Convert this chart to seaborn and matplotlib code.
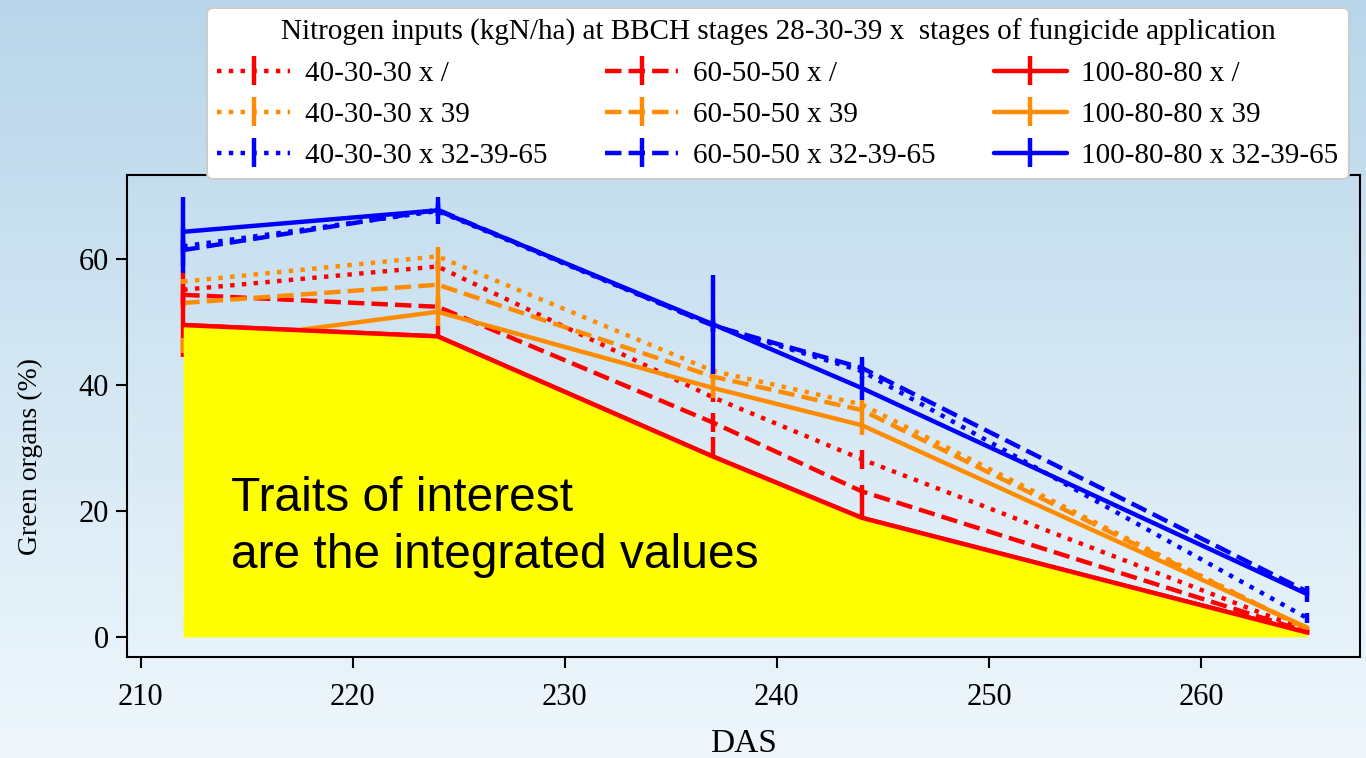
import numpy as np
import matplotlib
matplotlib.use("Agg")
import matplotlib.pyplot as plt
import seaborn as sns

# ---------------- data ----------------
das = [212, 224, 237, 244, 265]

labels = [
    "40-30-30 x /", "40-30-30 x 39", "40-30-30 x 32-39-65",
    "60-50-50 x /", "60-50-50 x 39", "60-50-50 x 32-39-65",
    "100-80-80 x /", "100-80-80 x 39", "100-80-80 x 32-39-65",
]

g_40_none = [55.1, 58.8, 38.0, 28.2, 1.0]
g_40_39 = [56.4, 60.4, 42.2, 36.9, 1.2]
g_40_full = [62.0, 67.6, 49.4, 42.2, 3.0]
g_60_none = [54.3, 52.4, 34.0, 23.1, 0.8]
g_60_39 = [53.0, 55.9, 41.3, 36.0, 1.3]
g_60_full = [61.4, 67.8, 49.4, 42.7, 7.2]
g_100_none = [49.5, 47.7, 28.6, 18.9, 0.7]
g_100_39 = [46.3, 51.6, 39.5, 33.6, 1.5]
g_100_full = [64.3, 67.7, 49.6, 39.5, 6.8]

e_40_none = [2.7, 0.8, 0.7, 1.5, 0.3]
e_40_39 = [0.4, 1.5, 0.5, 0.7, 0.3]
e_40_full = [1.0, 0.8, 0.8, 0.5, 0.8]
e_60_none = [1.5, 1.0, 1.5, 1.0, 0.3]
e_60_39 = [0.5, 3.0, 1.0, 1.0, 0.3]
e_60_full = [3.6, 1.0, 1.0, 1.8, 0.6]
e_100_none = [5.0, 1.6, 3.1, 3.2, 0.4]
e_100_39 = [1.2, 2.3, 1.6, 1.5, 0.3]
e_100_full = [5.5, 2.2, 7.9, 1.9, 1.2]

means = [g_40_none, g_40_39, g_40_full, g_60_none, g_60_39, g_60_full,
         g_100_none, g_100_39, g_100_full]
errors = [e_40_none, e_40_39, e_40_full, e_60_none, e_60_39, e_60_full,
          e_100_none, e_100_39, e_100_full]

legend_title = ("Nitrogen inputs (kgN/ha) at BBCH stages 28-30-39 x  "
                "stages of fungicide application")
note_text = "Traits of interest\nare the integrated values"

# ---------------- style ----------------
sns.set_theme(style="ticks")
plt.rcParams.update({
    "font.family": ["Liberation Serif", "DejaVu Serif"],
    "axes.linewidth": 1.5,
    "xtick.major.size": 8, "ytick.major.size": 8,
    "xtick.major.width": 1.5, "ytick.major.width": 1.5,
    "xtick.color": "black", "ytick.color": "black",
    "axes.edgecolor": "black", "axes.labelcolor": "black",
    "text.color": "black",
})

colors = ["#ff0000", "#ff8c00", "#0000ff"]
styles = [":", "--", "-"]
lw = 3.2

fig = plt.figure(figsize=(13.66, 7.58), dpi=100)

# gradient background
bg = fig.add_axes([0, 0, 1, 1], zorder=-10)
top = np.array([0.722, 0.839, 0.918])
bot = np.array([0.937, 0.969, 0.988])
t = np.linspace(0, 1, 256)[:, None]
grad = (top[None, :] * (1 - t) + bot[None, :] * t)[:, None, :]
bg.imshow(grad, aspect="auto", extent=[0, 1, 0, 1])
bg.set_axis_off()

ax = fig.add_axes([0.093, 0.1332, 0.9026, 0.6358])
ax.set_facecolor("none")

handles = []
for i, (m, e, lab) in enumerate(zip(means, errors, labels)):
    c = colors[i % 3]
    ls = styles[i // 3]
    h = ax.errorbar(das, m, yerr=e, color=c, ecolor=c, linestyle=ls,
                    linewidth=lw, elinewidth=lw, capsize=0, label=lab,
                    zorder=2 + i * 0.1)
    handles.append(h)

# highlighted integrated area under the 100-80-80 x / curve
ax.fill_between(das, 0, g_100_none, color="#ffff00", linewidth=0, zorder=5)
ax.plot(das, g_100_none, color=colors[0], linestyle="-", linewidth=lw,
        zorder=6)

ax.text(0.084, 0.375, note_text, transform=ax.transAxes,
        family=["Liberation Sans", "DejaVu Sans"], fontsize=34.5,
        color="black", ha="left", va="top", linespacing=1.32, zorder=7)

ax.set_xlim(209.35, 267.5)
ax.set_ylim(-3.2, 73.3)
ax.set_xticks([210, 220, 230, 240, 250, 260])
ax.set_yticks([0, 20, 40, 60])
ax.tick_params(axis="x", labelsize=22, pad=11)
ax.tick_params(axis="y", labelsize=22, pad=5)
ax.set_xlabel("DAS", fontsize=24)
ax.xaxis.set_label_coords(0.5, -0.148)
ax.set_ylabel("Green organs (%)", fontsize=20)
ax.yaxis.set_label_coords(-0.068, 0.417)
for s in ax.spines.values():
    s.set_visible(True)
    s.set_color("black")

leg = fig.legend(handles=handles, labels=labels, ncol=3,
                 loc="upper center", bbox_to_anchor=(0.5695, 0.989),
                 bbox_transform=fig.transFigure, fontsize=21,
                 title=legend_title, title_fontsize=21,
                 handlelength=2.5, handletextpad=0.5, columnspacing=2.0,
                 labelspacing=0.5, framealpha=1.0, fancybox=True,
                 borderpad=0.35, borderaxespad=0.0)
leg.get_frame().set_edgecolor("#cccccc")
leg.get_frame().set_linewidth(1.5)
leg.set_zorder(20)

fig.savefig("out.png", dpi=100)
